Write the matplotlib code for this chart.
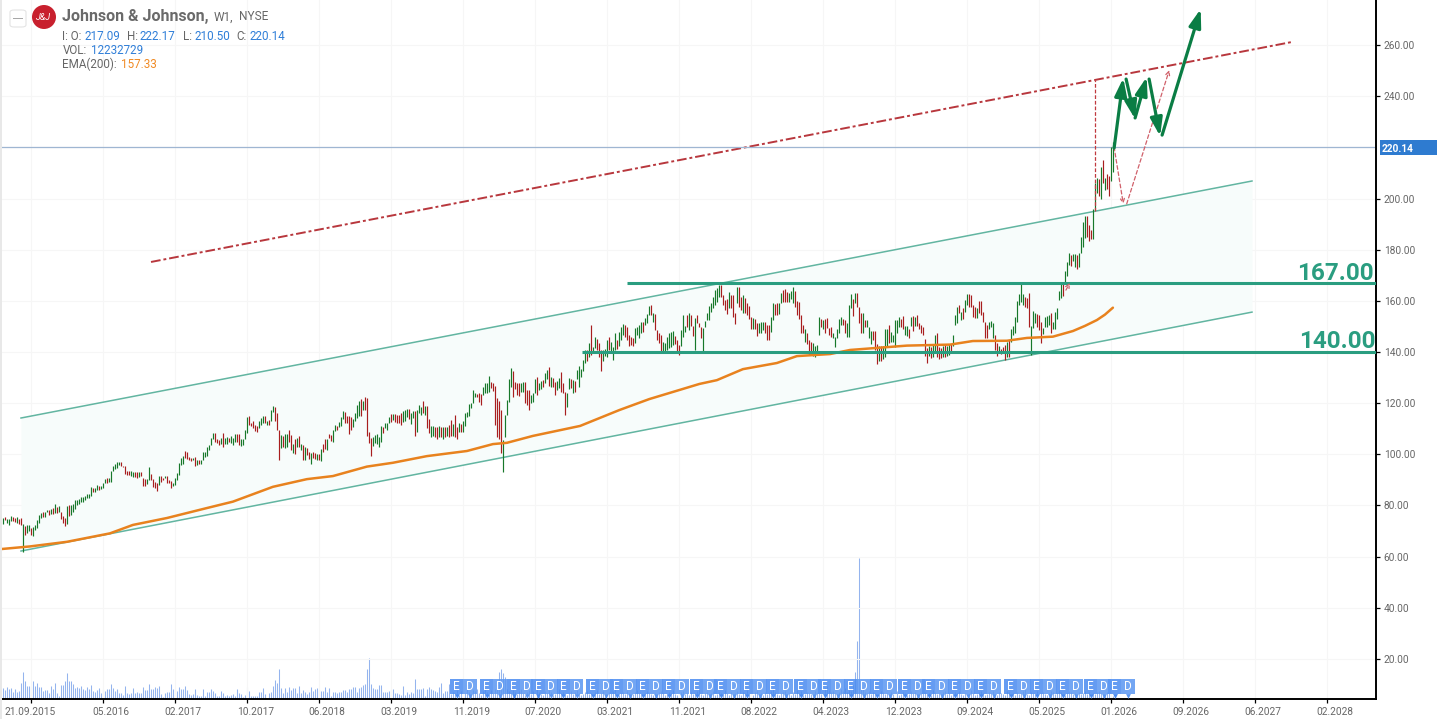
import numpy as np
import matplotlib
matplotlib.use("Agg")
import matplotlib.pyplot as plt
from matplotlib.patches import Circle, FancyBboxPatch, Rectangle
from matplotlib.transforms import ScaledTranslation

plt.rcParams['font.family'] = ['Roboto', 'DejaVu Sans']

# weekly bars as (high, low, up)
bars_a = [
(75.0,72.8,1),(75.5,74.4,0),(74.6,73.3,1),(74.9,72.5,1),(75.9,74.0,1),(75.5,73.8,0),(75.3,73.5,0),(75.5,73.3,1),(74.9,72.8,0),(75.1,72.4,0),
(72.8,62.0,1),(72.1,68.6,0),(72.2,69.2,1),(72.5,69.9,1),(71.3,68.6,0),(71.6,67.9,1),(72.5,70.6,1),(74.5,71.3,1),(76.1,73.2,1),(77.2,75.2,1),
(77.4,75.4,0),(77.6,75.5,1),(78.4,77.4,1),(78.4,76.3,0),(78.7,76.8,1),(78.9,76.8,0),(80.4,77.1,1),(79.4,77.0,0),(79.7,77.4,1),(77.6,74.8,0),
(75.8,73.2,0),(75.2,71.9,0),(79.7,72.6,1),(80.0,75.8,0),(80.0,76.2,1),(80.5,77.4,1),(82.0,78.7,1),(82.3,80.2,1),(82.6,80.6,1),(83.2,81.3,1),
(83.4,81.5,1),(83.9,82.3,1),(84.4,82.8,1),(84.3,83.1,1),(87.4,83.6,1),(86.7,85.4,0),(86.7,85.4,1),(88.2,85.9,1),(87.8,86.2,0),(87.5,86.5,1),
(88.8,86.7,1),(90.5,88.7,1),(90.9,88.9,0),(90.8,89.1,1),(93.6,89.1,1),(95.3,93.5,1),(96.1,94.3,1),(96.9,94.6,1),(97.1,96.0,1),(97.0,95.3,0),
(95.6,94.9,0),(95.3,92.4,0),(93.4,92.1,0),(93.4,92.1,0),(93.4,91.7,1),(93.0,91.1,1),(93.0,91.1,0),(93.0,90.9,0),(93.2,91.1,1),(93.2,91.4,0),
(90.8,87.8,0),(90.4,87.8,0),(90.4,88.4,1),(95.1,90.1,1),(92.4,89.8,0),(90.4,87.2,0),(89.0,86.8,0),(88.8,85.5,0),(91.4,88.1,1),(91.4,89.0,0),
(90.8,90.1,0),(91.6,90.6,1),(91.4,88.8,0),(90.1,88.8,0),(89.4,86.7,0),(88.8,87.7,1),(90.8,88.1,1),(92.8,90.1,1),(96.6,92.1,1),(98.5,95.9,1),
(99.4,96.2,1),(101.3,98.5,0),(101.1,98.1,0),(98.9,97.6,0),(98.5,97.4,0),(98.7,97.6,1),(98.9,95.3,0),(97.6,95.9,1),(97.8,96.2,0),(97.8,96.3,1),
(100.8,97.6,1),(100.9,98.9,1),(102.8,99.4,1),(103.7,101.8,1),(106.5,103.7,1),(108.3,106.0,1),(108.3,104.7,0),(106.0,104.4,0),(105.6,103.7,0),(106.3,104.1,1),
(108.3,102.8,0),(106.5,104.1,1),(106.7,104.1,1),(106.3,104.7,0),(107.0,104.4,1),(106.3,103.7,1),(108.0,104.7,1),(108.0,105.0,0),(108.0,103.7,0),(106.0,103.1,1),
(106.0,103.7,1),(109.6,105.9,1),(114.4,108.3,1),(115.1,111.5,0),(112.2,110.9,0),(113.1,110.2,0),(111.5,109.3,0),(110.9,108.9,0),(112.9,110.2,1),(114.2,111.5,1),
(115.1,112.2,1),(114.8,112.2,0),(113.1,111.5,1),(113.5,111.5,0),(117.4,112.9,1),(118.9,116.7,1),(118.4,112.9,0),(116.1,109.6,0),(109.6,97.8,0),
]
bars_b = [
(107.6,102.3,1),(107.2,103.0,0),(107.8,102.3,1),(108.0,103.0,1),(109.5,105.0,0),(107.6,101.5,0),(104.0,100.4,1),(105.9,100.2,0),(106.3,102.8,1),(107.2,103.0,0),
(104.0,101.5,1),(103.7,97.8,0),(102.8,97.8,1),(102.4,99.8,0),(101.1,98.1,0),(100.4,96.2,1),(101.1,98.5,0),(100.4,98.1,0),(100.2,97.8,1),(100.2,97.8,0),
(102.1,97.5,1),(104.0,101.1,0),(106.0,102.0,0),(105.9,101.7,1),(108.0,106.3,0),(107.4,105.3,0),(109.5,105.0,1),(111.6,109.2,1),(111.1,109.5,0),(112.8,110.8,1),
(114.7,111.1,1),(116.9,113.7,1),(116.7,112.4,0),(115.0,112.4,0),(115.1,108.0,0),(114.7,109.5,0),(114.0,110.5,1),(116.3,113.2,1),(119.3,114.1,1),(121.0,115.0,1),
(121.8,115.1,0),(121.0,117.3,1),(122.4,117.3,0),(122.1,107.2,0),(108.8,104.5,0),(106.3,99.3,0),(106.6,103.3,1),(107.6,104.3,1),(108.0,104.0,1),(106.6,103.0,1),
(111.1,105.0,1),(110.5,108.2,0),(112.4,110.1,1),(112.1,109.5,1),(114.7,112.1,1),(115.8,112.8,0),(115.8,113.4,1),(115.8,112.8,0),(115.4,112.1,0),(115.3,112.1,0),
(116.0,111.5,0),(117.1,112.8,1),(117.3,113.2,1),(117.9,114.7,1),(117.9,113.7,0),(116.0,111.9,1),(117.1,114.1,1),(116.9,107.2,0),(117.3,108.8,1),(119.3,116.0,1),
(118.6,115.4,1),(121.0,116.0,0),(118.9,115.4,1),(118.9,110.1,0),(113.8,108.2,0),(111.1,106.6,1),(111.1,107.2,1),(110.5,106.6,0),(110.5,105.9,0),(111.1,106.6,1),
(110.8,106.6,0),(110.5,105.9,1),(110.8,106.6,0),(110.5,107.2,1),(111.5,106.6,0),(113.4,107.2,0),(111.9,107.2,1),(115.4,106.6,0),(110.8,105.9,0),(112.1,108.8,1),
(111.9,108.8,0),(113.2,108.8,1),(116.3,111.1,1),(116.7,114.7,1),(119.7,115.0,1),(120.2,118.0,1),(125.1,119.9,1),(123.8,122.5,1),(123.6,122.3,0),(124.1,120.6,0),
(123.6,119.3,0),(126.4,123.2,1),(127.7,123.8,1),(127.7,124.1,1),(130.6,124.5,1),(128.4,125.8,0),(127.7,124.9,0),(126.7,111.5,0),(121.9,106.9,0),(121.0,105.9,0),
(117.3,100.7,0),(105.6,93.2,1),(115.4,106.6,1),(121.3,115.4,1),(129.5,120.6,1),(133.6,126.5,1),(132.7,122.5,0),(128.4,125.4,0),(128.0,123.2,0),(127.7,122.9,0),
(127.7,124.5,1),(128.4,124.5,1),(128.4,120.2,0),(125.1,119.3,0),(125.1,117.3,0),(123.2,119.9,1),(123.8,120.6,1),(129.3,123.8,1),(130.1,123.2,0),(127.7,125.1,1),
(128.8,125.4,1),(129.0,126.2,0),(131.9,127.7,1),(133.0,129.3,1),(134.0,126.7,0),(130.4,126.2,1),(129.7,126.2,0),(128.1,123.2,0),(128.8,125.1,1),(129.7,125.8,1),
(132.0,124.5,0),(127.7,123.8,0),(124.5,115.4,0),(123.8,118.4,1),(130.0,125.4,1),(129.3,125.8,0),(129.0,124.1,1),(128.8,124.5,0),(133.0,129.3,1),(134.5,126.5,1),
]
bars_c = [
(133.5,130.4,1),(136.9,132.4,1),(140.8,135.6,1),(140.8,136.3,0),(143.4,138.2,1),(150.6,138.8,0),(142.1,139.5,1),(146.0,141.4,1),(145.0,140.8,0),(143.7,138.2,0),
(140.8,132.4,0),(140.8,136.3,1),(141.1,138.5,1),(144.5,138.2,1),(146.0,140.8,0),(144.1,139.5,1),(142.1,136.9,1),(147.3,140.8,1),(144.5,141.1,0),(148.0,142.4,1),
(149.9,144.7,1),(151.0,146.6,1),(150.6,146.0,0),(149.9,144.7,0),(146.6,142.4,0),(146.0,142.8,0),(145.3,142.4,0),(149.2,143.7,1),(149.9,146.6,1),(150.6,145.3,1),
(151.9,147.3,1),(151.9,148.0,0),(153.2,150.6,1),(154.9,151.2,1),(158.0,154.5,1),(158.4,154.5,0),(155.1,151.9,1),(154.9,148.6,0),(148.6,144.7,0),(147.3,143.4,0),
(146.6,140.1,0),(144.1,140.1,1),(143.4,140.1,1),(146.0,140.8,1),(147.3,141.4,1),(148.0,141.8,1),(148.2,142.8,1),(146.3,143.2,0),(144.7,140.1,0),(142.8,138.8,0),
(148.6,142.4,1),(154.5,146.0,1),(150.2,148.0,1),(154.5,149.9,0),(155.1,148.6,1),(154.5,150.2,0),(150.2,146.3,0),(153.2,140.8,1),(154.5,151.2,0),(151.5,149.7,0),
(149.9,145.3,0),(149.2,140.1,1),(152.2,149.7,1),(155.1,152.5,1),(158.0,152.5,1),(159.0,155.8,1),(161.4,157.1,1),(164.2,158.4,1),(164.9,159.7,1),(166.3,161.6,1),
(166.3,161.6,0),(162.3,158.4,0),(160.3,156.4,0),(160.6,154.9,0),(163.6,157.1,1),(162.3,157.1,0),(162.3,153.8,0),(155.1,150.9,0),(165.3,159.0,1),(165.3,157.7,0),
(161.4,156.4,0),(162.3,155.1,1),(161.0,155.1,0),(159.0,154.5,0),(158.0,152.8,0),(153.8,148.9,0),(153.2,148.9,1),(152.8,148.9,0),(151.2,146.3,0),(151.2,147.3,1),
(151.9,147.3,1),(151.9,148.6,1),(151.9,147.3,0),(150.6,144.5,0),(150.6,144.5,0),(153.6,148.0,1),(159.0,152.5,1),(158.8,154.5,0),(159.0,154.5,0),(159.0,154.9,1),
(162.9,159.3,1),(164.2,159.7,0),(164.5,159.7,0),(163.6,159.7,0),(162.9,159.7,1),(164.0,160.6,1),(165.3,159.0,1),(164.0,157.5,0),(160.1,154.5,0),(159.7,152.8,0),
(154.5,147.3,0),(150.6,147.3,0),(148.9,144.1,1),(147.6,143.2,0),(144.5,138.9,0),(144.1,138.9,0),(143.7,138.5,1),(142.4,138.2,1),(142.8,139.8,1),(153.8,146.6,1),
(152.8,149.7,0),(152.5,148.9,1),(152.8,147.3,0),(153.2,149.3,0),(149.3,146.7,0),(149.7,146.0,0),(147.3,145.4,1),(146.0,141.8,1),(148.9,145.4,1),(152.8,147.3,1),
(153.6,150.6,1),(152.8,150.6,0),(152.5,147.3,0),(151.2,146.0,1),(158.4,146.0,1),
]
bars_d = [
(162.7,157.3,1),(160.6,154.2,0),(162.9,159.0,1),(162.9,157.5,0),(157.7,151.2,0),(155.1,147.3,0),(155.1,147.3,1),(152.5,149.9,0),(152.5,149.9,1),(149.7,145.3,1),
(148.3,143.2,1),(148.3,144.7,0),(148.3,140.8,0),(143.2,135.3,0),(142.4,136.3,1),(142.4,136.3,0),(142.4,137.1,1),(148.9,138.2,1),(148.9,141.8,1),(150.6,143.7,0),
(148.0,144.1,1),(146.6,144.1,1),(152.5,142.1,1),(152.5,147.6,1),(153.6,149.7,1),(152.8,149.9,0),(154.1,148.9,0),(150.2,146.6,1),(150.2,146.3,1),(148.9,145.3,0),
(153.6,150.2,1),(154.1,148.3,0),(153.6,150.2,1),(154.5,150.2,0),(151.2,148.9,0),(150.6,147.3,0),(149.7,146.6,0),(145.0,138.5,0),(141.4,135.8,0),(142.4,138.5,1),
(142.1,137.6,0),(143.2,138.0,1),(146.6,140.1,1),(147.6,138.0,0),(142.1,137.1,0),(141.4,137.6,0),(142.4,138.0,1),(142.8,138.0,0),(142.4,138.5,1),(143.2,138.8,1),
(143.2,139.5,0),(146.6,142.4,1),(154.5,150.6,1),(157.7,151.2,1),(158.4,155.1,0),(155.8,152.5,1),(157.1,152.8,0),(160.3,155.8,1),(162.7,158.4,1),(162.7,157.5,0),
(162.3,157.7,0),(158.4,153.8,0),(157.5,153.2,0),(157.1,153.2,1),(160.1,155.1,0),(160.1,154.5,0),(155.8,151.9,0),(151.9,145.3,0),(150.6,145.3,0),(151.9,148.9,1),
(152.2,149.9,1),(151.2,145.3,1),(146.6,140.8,0),(143.4,138.5,0),(142.4,140.1,1),(141.1,139.2,0),(142.1,140.1,0),(142.8,136.9,0),(144.1,138.0,1),(144.5,138.2,0),
(148.9,144.1,1),(150.2,146.6,1),(153.8,147.3,1),(160.1,151.9,1),(162.7,158.4,1),(166.6,159.7,1),(162.7,158.4,1),(161.4,157.5,0),(161.0,157.1,0),(163.2,149.9,0),
(150.2,138.8,1),(156.2,149.3,1),(155.1,151.2,1),(154.9,149.9,0),(154.5,148.6,0),(151.9,143.4,0),(149.3,147.0,1),(153.8,149.7,1),(154.1,149.9,1),(154.5,150.6,1),
(155.1,147.3,0),(151.9,148.9,1),(155.8,148.9,1),(157.1,152.8,1),
]
bars_e = [
(164.0,160.3,1),(167.5,161.0,1),(166.9,162.0,0),(171.7,166.6,1),(175.0,169.7,1),(178.6,173.9,1),(178.0,173.6,0),(178.3,175.7,1),(178.3,173.4,1),(178.0,172.6,0),
(178.6,173.1,1),(185.1,178.9,1),(191.0,181.2,1),(193.2,184.4,1),(193.2,185.1,0),(189.8,183.5,0),(187.7,184.2,0),(195.9,184.3,1),(206.0,195.5,1),(208.0,202.0,1),
(207.5,201.0,0),(212.5,200.0,1),(215.1,206.2,0),(208.0,203.3,1),(209.6,203.6,0),(208.8,201.0,0),(220.0,207.0,1),(222.2,210.5,1),
]

# volume in millions of shares
vol_a = [41,34,43,36,40,24,36,24,29,58,97,65,47,47,43,65,47,58,43,43,29,32,31,22,47,36,58,22,11,50,
50,65,94,65,65,54,40,43,40,47,36,32,43,36,50,29,25,32,40,22,36,29,36,36,54,40,29,36,22,22,
14,47,22,18,22,40,22,25,22,22,43,32,32,54,36,36,43,40,47,18,7,22,25,25,54,36,22,29,43,36,
36,47,32,18,14,18,36,14,11,11,36,11,25,25,36,29,22,11,11,29,22,11,14,11,14,18,11,36,22,18,
7,14,43,29,11,11,11,11,25,25,40,18,4,22,25,47,68,58,108,40,22,40,25,43,32,40,40,22,47,22,
32,25,18,25,43,29,36,40,29,29,29,43,25,40,11,25,25,22,25,25,32,32,25,36,36,43,43,25,40,43,
50,54,108,149,54,40,36,36,50,50,25,25,25,29,32,36,22,22,18,14,47,14,25,18,25,22,72,36,36,36,
40,11,36,43,36,32,29,25,43,58,22,29,29]
vol_b = [54,18,25,22,32,14,29,36,22,40,25,18,32,29,36,22,14,29,40,25,18,32,22,36,47]
vol_c = [97,108,94,79]
vol_d = [36,29,22,32,25,18,29,36,22,14,25,32,18,29,22,36,25,18,14,29,
22,32,25,14,18,29,36,22,25,18,14,22,29,18,25,32,22,14,18,25,
29,18,22,14,25,32,18,22,29,14,18,25,22,29,36,18,14,22,25,18,
29,22,14,18,25,32,22,18,14,22,29,25,18,14,22,18,25,29,22,14,
18,25,22,32,18,14,22,25,29,18,22,14,25,18,22,29,36,18,14,22,
25,18,22,29,14,18,25,22,18,32,22,14,25,18,22,29,18,14,25,22,
32,18,22,14,25,29,18,22,14,25,18,22,29,36,25,18,14,22,25,29,
18,22,14,25,18,32,22,29,14,18,25,22,18,14,29,22,25,18,36,40,
47,32,25,29,22,18,25,36,29,40,25,32,29,50]
vol_spike = [97,209,508]
vol_e = [65,36,25,22,29,18,25,22,14,18,29,25,18,22,14,25,18,22,29,14,
18,25,22,14,18,29,22,25,18,14,22,29,25,18,22,14,32,25,18,22,
14,25,29,18,22,14,18,25,22,29,18,14,22,25,18,32,22,14,18,25,
29,22,14,18,25,22,29,18,14,25,22,18,14,29,25,18,22,14,25,18,
22,29,36,18,14,25,22,18,29,14,22,25,18,14,22,29,25,18,22,32,
25,18,14,22,29,25,18,22,14,25,18,22,29,18,25,14,22,18,25,29,
22,18,14,25,22,18,12]

ema_x = [-14.6,-0.6,17.8,39.3,50.8,67.8,87.8,100.8,120.8,137.8,150.8,167.8,180.8,197.8,217.8,230.8,237.8,250.8,
         274.4,294,309,334,342.8,355.8,372.8,382.8,399.4,409.4,437.8,459.4,470.8,487.8,497.8,510.8,520.8,526.8,532.8,536.8,540.8]
ema_vals = [63.0,64.0,65.8,69.1,72.4,75.1,79.0,81.5,87.3,90.3,91.5,95.2,96.7,99.3,101.3,104.0,104.5,107.2,
            111.1,117.3,121.6,127.5,129.0,133.3,135.7,138.4,139.2,140.8,142.5,142.9,144.3,144.4,145.5,146.0,148.2,150.2,152.5,154.6,157.33]

date_labels = ['21.09.2015','05.2016','02.2017','10.2017','06.2018','03.2019','11.2019','07.2020','03.2021',
               '11.2021','08.2022','04.2023','12.2023','09.2024','05.2025','01.2026','09.2026','06.2027','02.2028']
price_ticks = [20,40,60,80,100,120,140,160,180,200,240,260]

earn_bars = [216,231,244.4,256.6,269.4,284,296,309,322,336,348,361,374,388,400,413,426,440,452,465,478,493,506,519,533,545]

channel_x = [-5.15,610.35]
channel_up = [114.2,206.85]
channel_lo = [62.2,155.6]
res_x = [59.85,630.35]
res_y = [175.2,261.2]
levels = [167.0,140.0]
level_start = [297.8,275.4]
last_price = 220.14

green_path = [((541.4,219.7),(546.0,247.1)),((547.4,246.7),(551.9,231.1)),((551.9,231.5),(557.7,247.5)),
              ((558.9,246.7),(564.4,224.4)),((565.4,224.8),(584.7,274.1))]
dash_path = [((541.4,220.1),(546.0,197.9)),((547.7,197.9),(569.0,250.2)),((517.3,164.2),(519.3,167.0))]

W, H = 1437, 719
GREEN = '#2a9d80'
BLUE = '#2f7ed8'
GREY = '#666666'

fig = plt.figure(figsize=(W/100, H/100), dpi=100, facecolor='white')
rect = [0, 1-699/H, 1376/W, 699/H]
ax_vol = fig.add_axes(rect)
ax = fig.add_axes(rect)
ax.patch.set_visible(False)
xlim = (-15.65, 672.35)
ax.set_xlim(xlim)
ax.set_ylim(4.35, 277.61)

# volume, on its own scale
vols = np.array(vol_a+vol_b+vol_c+vol_d+vol_spike+vol_e, dtype=float)
ax_vol.set_xlim(xlim)
ax_vol.set_ylim(0, 2516)
ax_vol.axis('off')
ax_vol.vlines(-14+np.arange(len(vols)), 0, vols, color='#94b4ee', lw=0.75)

# grid
for p in range(20, 270, 20):
    ax.axhline(p, color='#f6f6f6', lw=0.8, zorder=0)
for k in range(len(date_labels)):
    ax.axvline(36*k, color='#f6f6f6', lw=0.8, zorder=0)

# channel
ax.fill_between(channel_x, channel_lo, channel_up, color='#f7fcfb', lw=0, zorder=1)
ax.plot(channel_x, channel_up, color='#62b5a1', lw=1.1, zorder=2)
ax.plot(channel_x, channel_lo, color='#62b5a1', lw=1.1, zorder=2)
ax.plot(res_x, res_y, color='#b8373d', lw=1.4, ls=(0,(5,1.5,1.5,1.5)), zorder=2)

# price bars
rows = np.array(bars_a+bars_b+bars_c+bars_d+bars_e)
xs = -14+np.arange(len(rows))
cols = ['#17782a' if r[2] else '#a81e1e' for r in rows]
ax.vlines(xs, rows[:,1], rows[:,0], colors=cols, lw=0.85, zorder=3)

ax.plot(ema_x, ema_vals, color='#e8821e', lw=1.8, zorder=4, solid_capstyle='round', solid_joinstyle='round')

ax.axhline(last_price, color='#9fb6d2', lw=0.9, zorder=2)

for lv, st in zip(levels, level_start):
    ax.plot([st, xlim[1]], [lv, lv], color=GREEN, lw=2.2, zorder=5, solid_capstyle='butt')

ax.vlines(531.9, 195, 246.3, color='#c0393f', lw=0.9, ls=(0,(3,1.5)), zorder=4)
for a, b in dash_path:
    ax.annotate('', xy=b, xytext=a, zorder=6,
                arrowprops=dict(arrowstyle='->', color='#d0606a', lw=0.9, ls=(0,(3,2)),
                                shrinkA=0, shrinkB=0, mutation_scale=7))
for a, b in green_path:
    ax.annotate('', xy=b, xytext=a, zorder=7,
                arrowprops=dict(arrowstyle='-|>,head_length=0.9,head_width=0.3', color='#0a7d44', lw=2.3,
                                shrinkA=0, shrinkB=0, mutation_scale=12))

# earnings and dividend flags
ax.bar(np.array(earn_bars)-3.3, 5.9, width=6.6, bottom=6.3, color='#4a8bf0', alpha=0.85, zorder=8, lw=0)
ax.bar(np.array(earn_bars)+3.3, 5.9, width=6.6, bottom=6.3, color='#5b97f2', alpha=0.85, zorder=8, lw=0)
ax.scatter(np.array(earn_bars)-3.3, [5.6]*len(earn_bars), marker='v', s=12, color='#4a8bf0', zorder=8, lw=0)
ax.scatter(np.array(earn_bars)+3.3, [5.6]*len(earn_bars), marker='v', s=12, color='#5b97f2', zorder=8, lw=0)
for b in earn_bars:
    ax.text(b-3.3, 9.2, 'E', color='white', fontsize=8.5, ha='center', va='center', zorder=9)
    ax.text(b+3.3, 9.2, 'D', color='white', fontsize=8.5, ha='center', va='center', zorder=9)

# axes
for s in ['top', 'left']:
    ax.spines[s].set_visible(False)
for s in ['right', 'bottom']:
    ax.spines[s].set_linewidth(1.4)
    ax.spines[s].set_color('black')
ax.yaxis.tick_right()
ax.set_yticks(price_ticks)
ax.set_yticklabels(['%.2f' % p for p in price_ticks], fontsize=7.3, color=GREY)
ax.set_xticks([36*k for k in range(len(date_labels))])
ax.set_xticklabels(date_labels, fontsize=7.3, color=GREY)
ax.tick_params(axis='both', length=3, width=0.9, color='black', pad=2.5)
for i, lab in enumerate(ax.get_xticklabels()):
    dx = -1.5 if i == 0 else 8
    lab.set_transform(lab.get_transform()+ScaledTranslation(dx/100, 0, fig.dpi_scale_trans))


def px_text(x, y, s, **kw):
    fig.text(x/W, 1-y/H, s, **kw)


# price tag and level labels
fig.add_artist(Rectangle((1380/W, 1-155/H), 57/W, 15/H, transform=fig.transFigure, color='#2e7bd0', lw=0))
px_text(1382, 152, '220.14', fontsize=7.3, color='white', weight='bold')
px_text(1374, 280, '167.00', fontsize=17.5, color=GREEN, ha='right', weight='semibold')
px_text(1376, 348, '140.00', fontsize=17.5, color=GREEN, ha='right', weight='semibold')

# header
fig.add_artist(Rectangle((0, 0), 2/W, 1, transform=fig.transFigure, color='#e8e8e8', lw=0))
fig.add_artist(FancyBboxPatch((10/W, 1-27/H), 16/W, 17/H, transform=fig.transFigure,
                              boxstyle='round,pad=0,rounding_size=0.003', fc='white', ec='#e4e4e4', lw=0.8))
fig.add_artist(Rectangle((13/W, 1-19/H), 10/W, 1.5/H, transform=fig.transFigure, color='#a8a8a8', lw=0))
ax_logo = fig.add_axes([32/W, 1-29/H, 24/W, 24/H])
ax_logo.axis('off')
ax_logo.set_xlim(-1, 1)
ax_logo.set_ylim(-1, 1)
ax_logo.add_patch(Circle((0, 0), 1, color='#c8202e', lw=0))
ax_logo.text(0, -0.05, 'J&J', color='white', fontsize=6.5, style='italic', ha='center', va='center')

px_text(62.5, 21, 'Johnson & Johnson,', fontsize=11.5, color='#6a6a6a', weight='bold')
px_text(214, 20.5, 'W1,', fontsize=8.6, color=GREY)
px_text(239, 20.5, 'NYSE', fontsize=8.6, color=GREY)
for x, s, c in [(62.5,'I: O:',GREY),(84.5,'217.09',BLUE),(127,'H:',GREY),(140,'222.17',BLUE),
                (183,'L:',GREY),(194.5,'210.50',BLUE),(236.5,'C:',GREY),(249.5,'220.14',BLUE)]:
    px_text(x, 40, s, fontsize=8.4, color=c)
px_text(62.5, 54.5, 'VOL:', fontsize=8.4, color=GREY)
px_text(90.5, 54.5, '12232729', fontsize=8.4, color=BLUE)
px_text(62.5, 68, 'EMA(200):', fontsize=8.4, color=GREY)
px_text(121.5, 68, '157.33', fontsize=8.4, color='#f08a24')

fig.savefig('out.png', dpi=100)
